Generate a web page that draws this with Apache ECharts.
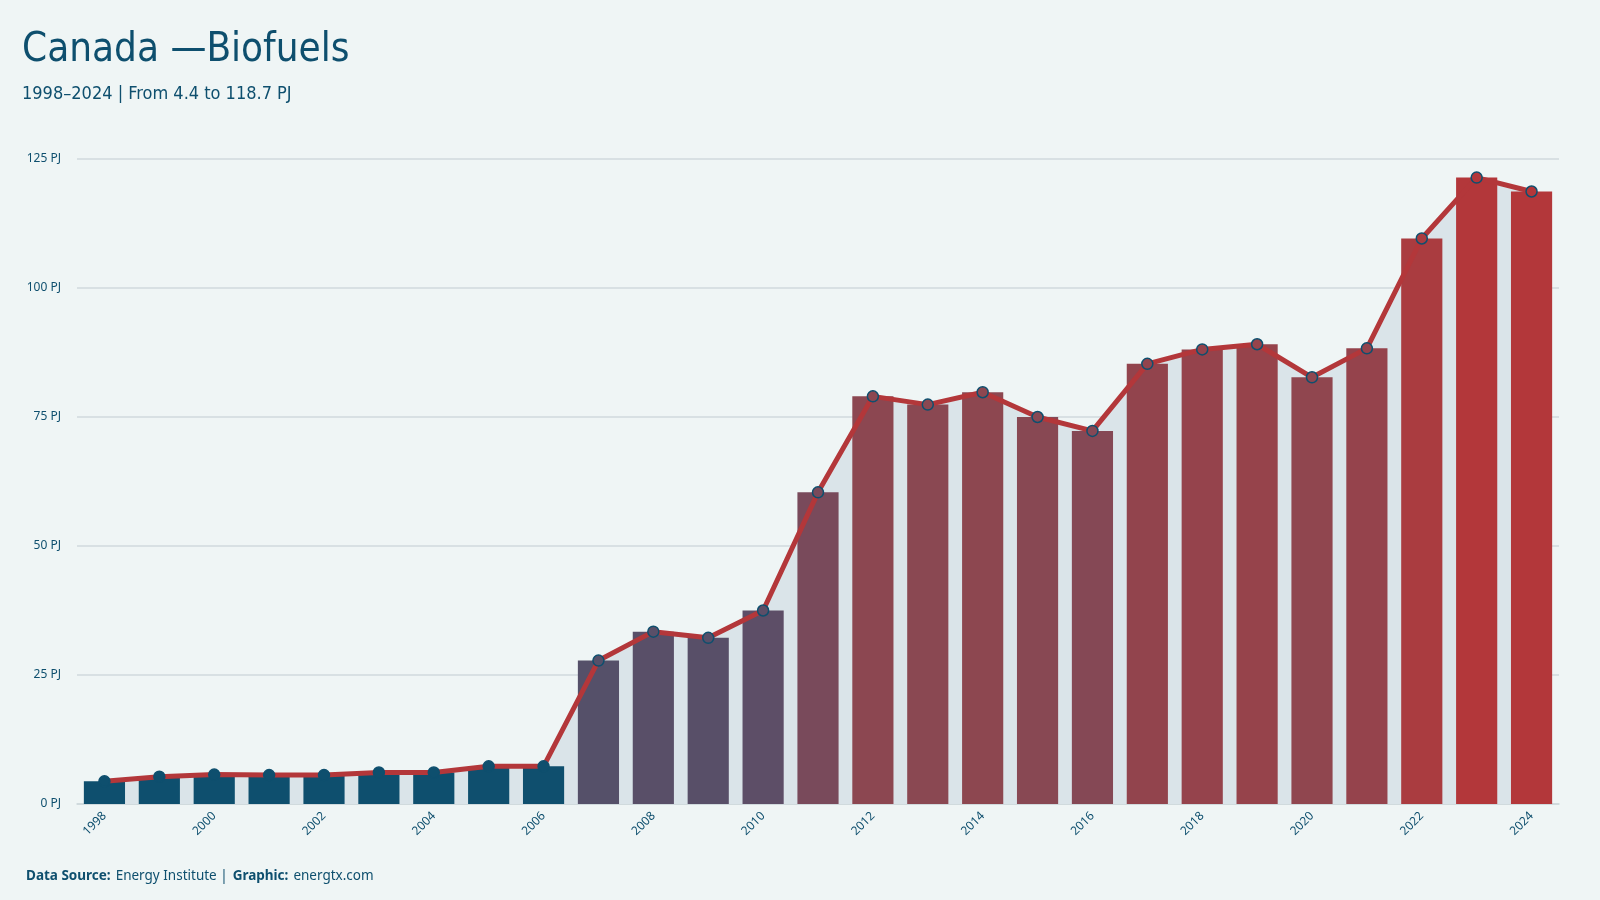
<!DOCTYPE html>
<html>
<head>
<meta charset="utf-8">
<title>Canada - Biofuels</title>
<script src="https://cdn.jsdelivr.net/npm/echarts@6/dist/echarts.min.js"></script>
<style>
  html, body { margin: 0; padding: 0; background: #eff5f5; }
  #chart { width: 1600px; height: 900px; }
</style>
</head>
<body>
<div id="chart"></div>
<script>
// data (PJ)
const years = ['1998', '1999', '2000', '2001', '2002', '2003', '2004', '2005', '2006',
  '2007', '2008', '2009', '2010', '2011', '2012', '2013', '2014', '2015', '2016',
  '2017', '2018', '2019', '2020', '2021', '2022', '2023', '2024']
const biofuels = [4.4, 5.3, 5.7, 5.6, 5.6, 6.1, 6.1, 7.3, 7.3,
  27.8, 33.4, 32.2, 37.5, 60.4, 79.0, 77.4, 79.8, 75.0, 72.3,
  85.3, 88.1, 89.1, 82.7, 88.3, 109.6, 121.4, 118.7]

const blue = '#0e4f6e'
const red = '#b3373a'
const titleFont = "'DejaVu Sans Condensed', 'DejaVu Sans', sans-serif"
const labelFont = "'Noto Sans', 'Open Sans', sans-serif"

const chart = echarts.init(document.getElementById('chart'))

chart.setOption({
  backgroundColor: '#eff5f5',
  animation: false,
  title: [{
    text: 'Canada —Biofuels',
    left: 17,
    top: 26,
    textStyle: { fontFamily: titleFont, fontStyle: 'normal', fontWeight: 'condensed', fontSize: 40, color: blue },
    subtext: '1998–2024 | From 4.4 to 118.7 PJ',
    subtextStyle: { fontFamily: titleFont, fontStyle: 'normal', fontWeight: 'condensed', fontSize: 18, color: blue },
    itemGap: 14
  }, {
    left: 21,
    top: 862,
    text: '{b|Data Source:} {n|Energy Institute |} {b|Graphic:} {n|energtx.com}',
    textStyle: {
      rich: {
        b: { fontFamily: labelFont, fontSize: 13.5, fontWeight: 'bold', color: blue },
        n: { fontFamily: labelFont, fontSize: 13.5, fontWeight: 'normal', color: blue }
      }
    }
  }],
  grid: { left: 77, right: 41, top: 159, bottom: 96 },
  visualMap: {
    show: false,
    type: 'continuous',
    seriesIndex: [0, 3],
    dimension: 1,
    min: 7,
    max: 119,
    inRange: {
      color: [blue, '#50506a', '#5a4f68', '#6a4c60', '#7c495a', '#8a4852', '#98424a', '#a53e43', red]
    }
  },
  xAxis: {
    type: 'category',
    data: years,
    axisTick: { show: false },
    axisLine: { lineStyle: { color: '#cdd8dc', width: 1.5 } },
    axisLabel: {
      interval: 1,
      rotate: 45,
      margin: 10,
      fontFamily: labelFont,
      fontSize: 12,
      color: blue
    }
  },
  yAxis: {
    type: 'value',
    min: 0,
    max: 125,
    interval: 25,
    axisLine: { show: false },
    axisTick: { show: false },
    axisLabel: {
      formatter: '{value} PJ',
      margin: 16,
      fontFamily: labelFont,
      fontSize: 12,
      color: blue
    },
    splitLine: { lineStyle: { color: '#d0d9dc', width: 1.5 } }
  },
  series: [{
    name: 'Biofuels',
    type: 'bar',
    data: biofuels,
    barWidth: '75%',
    z: 3
  }, {
    name: 'area',
    type: 'line',
    data: biofuels,
    symbol: 'none',
    lineStyle: { width: 0 },
    areaStyle: { color: '#dae4e9', opacity: 1 },
    silent: true,
    z: 1
  }, {
    name: 'trend',
    type: 'line',
    data: biofuels,
    symbol: 'none',
    lineStyle: { color: red, width: 5 },
    silent: true,
    z: 4
  }, {
    name: 'points',
    type: 'scatter',
    data: biofuels,
    symbolSize: 11,
    itemStyle: { borderColor: blue, borderWidth: 1.5, opacity: 1 },
    z: 5
  }]
})
</script>
</body>
</html>
